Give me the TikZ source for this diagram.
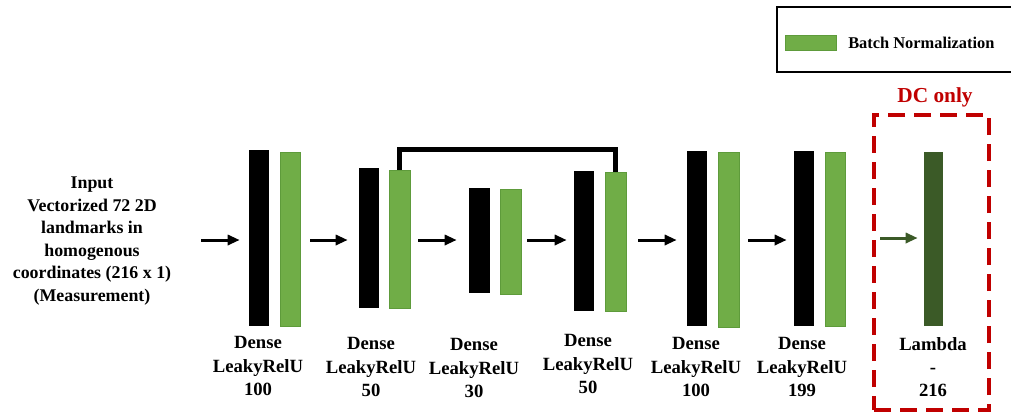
\documentclass[tikz,border=0pt]{standalone}
\usepackage{fontspec}
\setmainfont{Liberation Serif}
\usetikzlibrary{arrows.meta,fit,positioning}
\definecolor{bngreen}{HTML}{70AD47}
\definecolor{bnedge}{HTML}{5E9B3B}
\definecolor{lamgreen}{HTML}{3B5A27}
\definecolor{dcred}{HTML}{C00000}
\tikzset{
  blackbar/.style={fill=black, draw=none, inner sep=0pt},
  greenbar/.style={fill=bngreen, draw=bnedge, line width=0.6pt, inner sep=0pt},
  lambar/.style={fill=lamgreen, draw=none, inner sep=0pt},
  arr/.style={line width=2.25pt, -{Triangle[length=9pt,width=7.5pt]}},
  garr/.style={arr, draw=lamgreen, color=lamgreen},
  lbl/.style={align=center, font=\bfseries\fontsize{14}{17.5}\selectfont, inner sep=0pt},
  intext/.style={align=center, font=\bfseries\fontsize{13.4}{16.9}\selectfont, inner sep=0pt},
  skipline/.style={line width=3.75pt},
}
\begin{document}
\begin{tikzpicture}[x=0.75pt, y=-0.75pt]
\useasboundingbox (0,0) rectangle (1011,415);

% legend
\draw[line width=1.5pt] (1013,7) -| (777,72) -- (1013,72);
\node[greenbar, fit={(785,35)(836,50)}] (leg) {};
\node[anchor=west, font=\bfseries\fontsize{12.3}{14}\selectfont, inner sep=0pt] (legtxt) at (848,43) {Batch Normalization};

% input
\node[intext] (in) at (92,241) {Input\\Vectorized 72 2D\\landmarks in\\homogenous\\coordinates (216 x 1)\\(Measurement)};
\coordinate (ay) at (0,240);
\coordinate (a1s) at (201,240);

% layers
\node[blackbar, fit={(249,150)(269,326)}] (b1) {};
\node[greenbar, fit={(280,152)(300,326)}] (g1) {};
\node[blackbar, fit={(359,168)(379,308)}] (b2) {};
\node[greenbar, fit={(389,170)(410,308)}] (g2) {};
\node[blackbar, fit={(469,188)(490,293)}] (b3) {};
\node[greenbar, fit={(500,189)(521,294)}] (g3) {};
\node[blackbar, fit={(574,171)(594,311)}] (b4) {};
\node[greenbar, fit={(605,172)(626,311)}] (g4) {};
\node[blackbar, fit={(687,151)(707,326)}] (b5) {};
\node[greenbar, fit={(718,152)(739,327)}] (g5) {};
\node[blackbar, fit={(794,151)(814,326)}] (b6) {};
\node[greenbar, fit={(825,152)(845,326)}] (g6) {};
\node[lambar, fit={(924,152)(943,326)}] (lam) {};

% DC only box
\node[fit={(874,115)(989,410)}, inner sep=0pt, draw=dcred, line width=3pt, dash pattern=on 12.5pt off 7pt] (dc) {};
\node[font=\bfseries\fontsize{16}{18}\selectfont, text=dcred, inner sep=0pt] (dctxt) at (935,97) {DC only};

% skip connection
\draw[skipline] (g2.north) -- ++(0,-20) -| (g4.north);

% arrows
\draw[arr, shorten >=6.75pt] (a1s) -- (b1.west |- ay);
\draw[arr, shorten <=7.5pt, shorten >=8.25pt] (g1.east |- ay) -- (b2.west |- ay);
\draw[arr, shorten <=6pt, shorten >=9pt] (g2.east |- ay) -- (b3.west |- ay);
\draw[arr, shorten <=4.5pt, shorten >=5.25pt] (g3.east |- ay) -- (b4.west |- ay);
\draw[arr, shorten <=9pt, shorten >=7.5pt] (g4.east |- ay) -- (b5.west |- ay);
\draw[arr, shorten <=6.75pt, shorten >=5.25pt] (g5.east |- ay) -- (b6.west |- ay);
\coordinate (gy) at (0,238);
\draw[garr, shorten <=6pt, shorten >=4.5pt] (dc.west |- gy) -- (lam.west |- gy);

% labels
\node[lbl] (l1) at (258,366) {Dense\\LeakyRelU\\100};
\node[lbl] (l2) at (371,367) {Dense\\LeakyRelU\\50};
\node[lbl] (l3) at (474,368) {Dense\\LeakyRelU\\30};
\node[lbl] (l4) at (588,364) {Dense\\LeakyRelU\\50};
\node[lbl] (l5) at (696,367) {Dense\\LeakyRelU\\100};
\node[lbl] (l6) at (802,367) {Dense\\LeakyRelU\\199};
\node[lbl] (l7) at (933,367) {Lambda\\-\\216};
\end{tikzpicture}
\end{document}
